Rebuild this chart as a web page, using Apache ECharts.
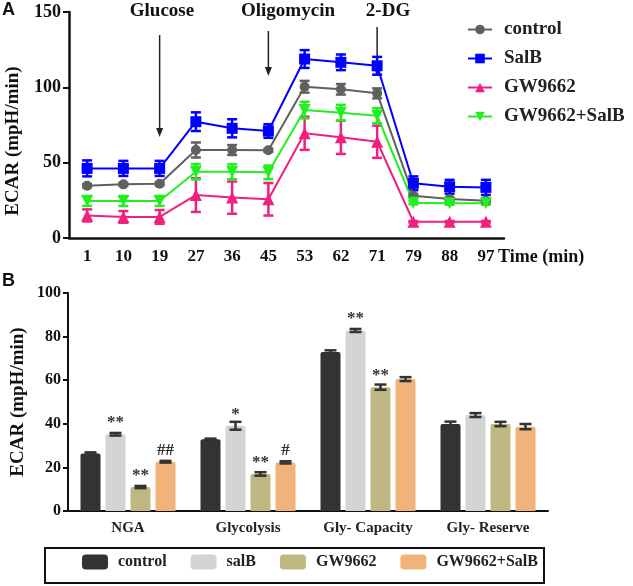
<!DOCTYPE html>
<html>
<head>
<meta charset="utf-8">
<script src="https://cdn.jsdelivr.net/npm/echarts@6/dist/echarts.min.js"></script>
<style>
html, body { margin: 0; padding: 0; background: #fff; }
#chart { width: 633px; height: 586px; }
</style>
</head>
<body>
<div id="chart"></div>
<script>
// ---- panel A : ECAR time course ----
var times = ['1', '10', '19', '27', '36', '45', '53', '62', '71', '79', '88', '97'];
var controlA = [34.7, 35.6, 36.0, 58.4, 58.4, 58.2, 100.4, 98.7, 96.0, 28.1, 25.9, 24.8];
var controlErr = [1, 1, 1, 5, 3.3, 1, 3.9, 3.5, 3.3, 1, 1, 1];
var salbA = [46.2, 46.2, 46.2, 77.2, 72.8, 71.0, 118.8, 116.6, 114.3, 36.3, 34.0, 33.6];
var salbErr = [5.3, 5, 5, 6.2, 6, 4.5, 5.9, 5.2, 5.9, 4.6, 4.6, 5];
var gwA = [15, 14, 14, 28.5, 26.8, 25.7, 69.5, 66.8, 63.9, 10.8, 10.8, 10.8];
var gwErr = [4, 3.9, 4.6, 11.2, 10.7, 10.8, 11, 11, 10.7, 0.5, 0.5, 0.5];
var gwSalbA = [24.6, 24.6, 24.6, 44.0, 44.0, 43.6, 84.9, 83.2, 81.2, 23.4, 23.1, 23.1];
var gwSalbErr = [3.3, 3.3, 3.3, 5.1, 5, 4.5, 5.5, 5.2, 5, 1, 1, 1];
var yTicksA = [0, 50, 100, 150];

// ---- panel B : glycolysis parameters ----
var phases = ['NGA', 'Glycolysis', 'Gly- Capacity', 'Gly- Reserve'];
var controlB = [26.4, 32.9, 72.9, 39.9];
var controlBErr = [0.5, 0.3, 0.8, 1.1];
var salbB = [35.2, 39.1, 82.8, 44.0];
var salbBErr = [0.6, 1.8, 0.7, 0.9];
var gwB = [11.0, 17.0, 56.8, 39.9];
var gwBErr = [0.5, 0.8, 1.2, 1.0];
var gwSalbB = [22.6, 22.3, 60.5, 38.7];
var gwSalbBErr = [0.4, 0.5, 0.9, 1.2];
var salbMarks = ['**', '*', '**', ''];
var gwMarks = ['**', '**', '**', ''];
var gwSalbMarks = ['##', '#', '', ''];
var yTicksB = [0, 20, 40, 60, 80, 100];

var SERIF = '"Liberation Serif", "Times New Roman", serif';
var SANS = '"Liberation Sans", Arial, sans-serif';

function errData(vals, errs) {
  return vals.map(function (v, i) { return [i, v - errs[i], v + errs[i]]; });
}

// vertical error bar with caps, drawn through the axis scales
function errRender(color, capW, lineW, offset) {
  return function (params, api) {
    var i = api.value(0);
    var lo = api.coord([i, api.value(1)]);
    var hi = api.coord([i, api.value(2)]);
    var cx = lo[0] + offset;
    var st = { stroke: color, lineWidth: lineW };
    return {
      type: 'group',
      children: [
        { type: 'line', shape: { x1: cx, y1: hi[1], x2: cx, y2: lo[1] }, style: st },
        { type: 'line', shape: { x1: cx - capW / 2, y1: hi[1], x2: cx + capW / 2, y2: hi[1] }, style: st },
        { type: 'line', shape: { x1: cx - capW / 2, y1: lo[1], x2: cx + capW / 2, y2: lo[1] }, style: st }
      ]
    };
  };
}

function lineSeries(name, data, color, symbol, size, rotate) {
  return {
    name: name, type: 'line', xAxisIndex: 0, yAxisIndex: 0,
    data: data, color: color, symbol: symbol, symbolSize: size,
    symbolRotate: rotate || 0, showAllSymbol: true, z: 4,
    lineStyle: { width: 2, color: color },
    itemStyle: { color: color }
  };
}

function errSeriesA(vals, errs, color) {
  return {
    type: 'custom', xAxisIndex: 0, yAxisIndex: 0, z: 3, silent: true,
    renderItem: errRender(color, 10, 2.5, 0),
    data: errData(vals, errs)
  };
}

function barSeries(name, data, color, marks) {
  return {
    name: name, type: 'bar', xAxisIndex: 1, yAxisIndex: 1,
    data: data, barWidth: 20, barGap: '25%', color: color,
    itemStyle: { color: color, borderRadius: [2, 2, 0, 0] },
    label: {
      show: !!marks, position: 'top', distance: 3,
      fontFamily: SERIF, fontWeight: 'bold', fontSize: 17, color: '#333',
      formatter: function (p) { return marks ? marks[p.dataIndex] : ''; }
    }
  };
}

function errSeriesB(vals, errs, offset) {
  return {
    type: 'custom', xAxisIndex: 1, yAxisIndex: 1, z: 5, silent: true,
    renderItem: errRender('#333', 12, 2.5, offset),
    data: errData(vals, errs)
  };
}

var chart = echarts.init(document.getElementById('chart'));

var option = {
  animation: false,
  backgroundColor: '#fff',
  grid: [
    { left: 69, right: 129, top: 12, bottom: 348 },
    { left: 68, right: 85, top: 293, bottom: 75 }
  ],
  xAxis: [
    {
      type: 'category', gridIndex: 0, data: times, boundaryGap: true,
      axisLine: { lineStyle: { color: '#111', width: 2.5 } },
      axisTick: { alignWithLabel: true, length: 5, lineStyle: { width: 2, color: '#111' } },
      axisLabel: { margin: 10, fontFamily: SERIF, fontWeight: 'bold', fontSize: 17, color: '#111' }
    },
    {
      type: 'category', gridIndex: 1, data: phases, boundaryGap: true,
      axisLine: { lineStyle: { color: '#111', width: 2 } },
      axisTick: { alignWithLabel: true, length: 5, lineStyle: { width: 2, color: '#111' } },
      axisLabel: { margin: 10, fontFamily: SERIF, fontWeight: 'bold', fontSize: 15, color: '#222' }
    }
  ],
  yAxis: [
    {
      type: 'value', gridIndex: 0,
      min: yTicksA[0], max: yTicksA[yTicksA.length - 1], interval: yTicksA[1] - yTicksA[0],
      axisLine: { show: true, lineStyle: { color: '#111', width: 2.5 } },
      axisTick: { show: true, length: 6, lineStyle: { width: 2, color: '#111' } },
      splitLine: { show: false },
      axisLabel: { margin: 8, fontFamily: SERIF, fontWeight: 'bold', fontSize: 18, color: '#111' }
    },
    {
      type: 'value', gridIndex: 1,
      min: yTicksB[0], max: yTicksB[yTicksB.length - 1], interval: yTicksB[1] - yTicksB[0],
      axisLine: { show: true, lineStyle: { color: '#111', width: 2 } },
      axisTick: { show: true, length: 5, lineStyle: { width: 2, color: '#111' } },
      splitLine: { show: false },
      axisLabel: { margin: 7, fontFamily: SERIF, fontWeight: 'bold', fontSize: 16, color: '#111' }
    }
  ],
  legend: [
    {
      data: ['control', 'SalB', 'GW9662', 'GW9662+SalB'],
      orient: 'vertical', left: 462, top: 15, itemGap: 10,
      itemWidth: 24, itemHeight: 12,
      textStyle: { fontFamily: SERIF, fontWeight: 'bold', fontSize: 19, color: '#222', padding: [0, 0, 0, 7] }
    },
    {
      data: ['B:control', 'B:salB', 'B:GW9662', 'B:GW9662+SalB'],
      orient: 'horizontal', left: 82, top: 554, padding: 0, itemGap: 24,
      itemWidth: 26, itemHeight: 15, icon: 'roundRect',
      formatter: function (n) { return n.slice(2); },
      textStyle: { fontFamily: SERIF, fontWeight: 'bold', fontSize: 16, color: '#222', padding: [0, 0, 0, 5] }
    }
  ],
  series: [
    errSeriesA(controlA, controlErr, '#606060'),
    errSeriesA(salbA, salbErr, '#0000ff'),
    errSeriesA(gwA, gwErr, '#f0207f'),
    errSeriesA(gwSalbA, gwSalbErr, '#22ee22'),
    lineSeries('control', controlA, '#606060', 'circle', 10),
    lineSeries('SalB', salbA, '#0000ff', 'rect', 11),
    lineSeries('GW9662', gwA, '#f0207f', 'triangle', 12),
    lineSeries('GW9662+SalB', gwSalbA, '#22ee22', 'triangle', 12, 180),
    barSeries('B:control', controlB, '#333333', null),
    barSeries('B:salB', salbB, '#d4d4d4', salbMarks),
    barSeries('B:GW9662', gwB, '#bfb781', gwMarks),
    barSeries('B:GW9662+SalB', gwSalbB, '#f0b47a', gwSalbMarks),
    errSeriesB(controlB, controlBErr, -37.5),
    errSeriesB(salbB, salbBErr, -12.5),
    errSeriesB(gwB, gwBErr, 12.5),
    errSeriesB(gwSalbB, gwSalbBErr, 37.5)
  ]
};

chart.setOption(option);

// treatment arrows, placed in data coordinates of panel A
var injections = [
  { text: 'Glucose', at: 2.45, top: 134.7, tip: 67, textX: 162 },
  { text: 'Oligomycin', at: 5.49, top: 137.4, tip: 107.5, textX: 288 },
  { text: '2-DG', at: 8.32, top: 140, tip: 107.5, textX: 388 }
];
var graphics = [
  { type: 'text', left: 2, top: 1, style: { text: 'A', font: 'bold 18px ' + SANS, fill: '#111' } },
  { type: 'text', left: 2, top: 272, style: { text: 'B', font: 'bold 18px ' + SANS, fill: '#111' } },
  { type: 'text', x: 13, y: 141, rotation: Math.PI / 2,
    style: { text: 'ECAR (mpH/min)', font: 'bold 19px ' + SERIF, fill: '#111', align: 'center', verticalAlign: 'middle' } },
  { type: 'text', x: 18, y: 402, rotation: Math.PI / 2,
    style: { text: 'ECAR (mpH/min)', font: 'bold 19px ' + SERIF, fill: '#111', align: 'center', verticalAlign: 'middle' } },
  { type: 'text', x: 498, y: 257,
    style: { text: 'Time (min)', font: 'bold 18px ' + SERIF, fill: '#111', align: 'left', verticalAlign: 'middle' } },
  { type: 'rect', shape: { x: 45, y: 548, width: 499, height: 35 },
    style: { fill: 'none', stroke: '#111', lineWidth: 2 }, z: 1 }
];
injections.forEach(function (a) {
  var p0 = chart.convertToPixel({ xAxisIndex: 0, yAxisIndex: 0 }, [a.at, a.top]);
  var p1 = chart.convertToPixel({ xAxisIndex: 0, yAxisIndex: 0 }, [a.at, a.tip]);
  graphics.push({ type: 'line', shape: { x1: p0[0], y1: p0[1], x2: p1[0], y2: p1[1] - 6 },
    style: { stroke: '#222', lineWidth: 1.5 } });
  graphics.push({ type: 'polygon', shape: { points: [[p1[0] - 3.5, p1[1] - 9], [p1[0] + 3.5, p1[1] - 9], [p1[0], p1[1]]] },
    style: { fill: '#222' } });
  graphics.push({ type: 'text', x: a.textX, y: 11,
    style: { text: a.text, font: 'bold 19px ' + SERIF, fill: '#111', align: 'center', verticalAlign: 'middle' } });
});
chart.setOption({ graphic: graphics });
window.onresize = chart.resize;
</script>
</body>
</html>
